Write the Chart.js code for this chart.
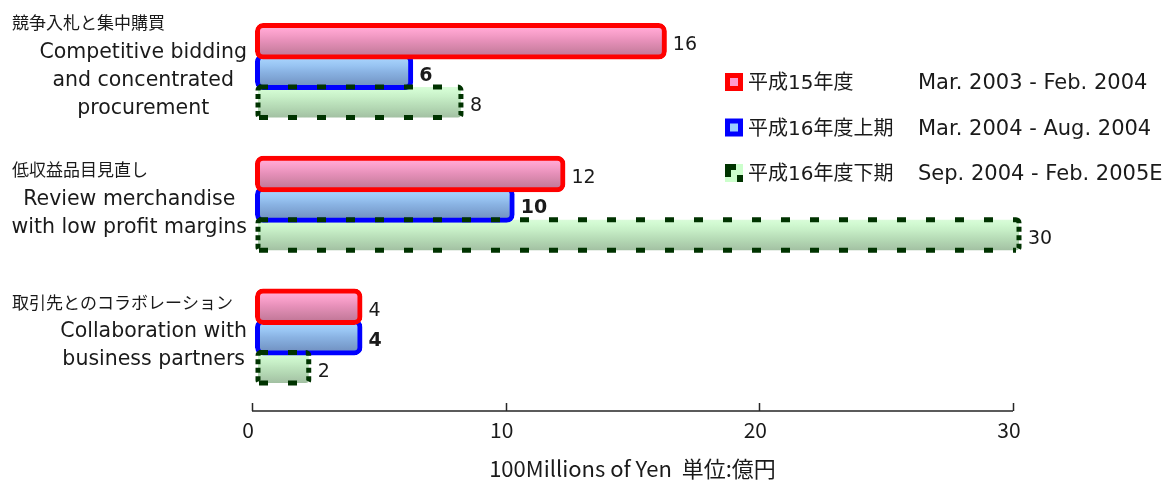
<!DOCTYPE html>
<html>
<head>
<meta charset="utf-8">
<script src="https://cdn.jsdelivr.net/npm/chart.js@4"></script>
<style>
  html, body { margin: 0; padding: 0; background: #ffffff; }
  #wrap { width: 1167px; height: 480px; position: relative; }
</style>
</head>
<body>
<div id="wrap"><canvas id="chart"></canvas></div>
<script>
// Cost-reduction effects by initiative, three fiscal periods
const categoriesJa = ['競争入札と集中購買', '低収益品目見直し', '取引先とのコラボレーション'];
const categoriesEn = [
  ['Competitive bidding', 'and concentrated', 'procurement'],
  ['Review merchandise', 'with low profit margins'],
  ['Collaboration with', 'business partners']
];
const seriesJa = ['平成15年度', '平成16年度上期', '平成16年度下期'];
const seriesPeriod = ['Mar. 2003 - Feb. 2004', 'Mar. 2004 - Aug. 2004', 'Sep. 2004 - Feb. 2005E'];
const fy2003 = [16, 12, 4];
const fy2004First = [6, 10, 4];
const fy2004Second = [8, 30, 2];
const xTicks = [0, 10, 20, 30];
const axisTitle = '100Millions of Yen  単位:億円';

const EN_FONT = '"DejaVu Sans", "Noto Sans CJK JP", sans-serif';
const JA_FONT = '"Noto Sans CJK JP", sans-serif';
const TEXT = '#1a1a1a';
const BAR = 30.5;      // bar thickness
const DEPTH = 6;       // horizontal offset of the bar bodies

const shades = [
  [[0, '#fbb6d8'], [0.12, '#ffa6d2'], [0.3, '#f49cc6'], [0.5, '#e58fb8'], [0.7, '#d586aa'], [0.88, '#c87c9e'], [1, '#c07596']],
  [[0, '#b0d8ff'], [0.12, '#a4cffa'], [0.3, '#98c4f2'], [0.5, '#8ab3e3'], [0.7, '#7fa5d5'], [0.88, '#7698c8'], [1, '#7090c0']],
  [[0, '#dafcda'], [0.12, '#d2fad2'], [0.3, '#c9f1c9'], [0.5, '#bde3bd'], [0.7, '#b2d6b2'], [0.88, '#a9c9a9'], [1, '#a2c0a2']]
];

function shade(stops) {
  return (c) => {
    const chart = c.chart;
    const ys = chart.scales.y;
    if (!ys || c.type !== 'data') return stops[3][1];
    const mid = ys.getPixelForValue(c.dataIndex) + (c.datasetIndex - 1) * BAR;
    if (!Number.isFinite(mid)) return stops[3][1];
    const g = chart.ctx.createLinearGradient(0, mid - BAR / 2, 0, mid + BAR / 2);
    stops.forEach(([o, col]) => g.addColorStop(o, col));
    return g;
  };
}

// Shifts the bar bodies, adds the dashed outline of the last series and value labels
const barDecor = {
  id: 'barDecor',
  beforeDatasetsDraw(chart) {
    chart.ctx.save();
    chart.ctx.translate(DEPTH, 0);
  },
  afterDatasetsDraw(chart) {
    const ctx = chart.ctx;
    const meta = chart.getDatasetMeta(2);
    meta.data.forEach((el) => {
      const { x, y, base, height } = el.getProps(['x', 'y', 'base', 'height'], true);
      const top = y - height / 2, bot = y + height / 2;
      ctx.save();
      ctx.strokeStyle = '#003300';
      ctx.lineWidth = 5;
      ctx.lineCap = 'butt';
      // long edges
      ctx.setLineDash([9, 20]);
      ctx.beginPath();
      ctx.moveTo(base + 1, top); ctx.lineTo(x - 3, top);
      ctx.moveTo(base + 1, bot); ctx.lineTo(x - 3, bot);
      ctx.stroke();
      // rounded ends
      ctx.setLineDash([5, 3.5]);
      ctx.beginPath();
      ctx.moveTo(base + 3, top);
      ctx.arcTo(base, top, base, top + 3, 3);
      ctx.lineTo(base, bot - 3);
      ctx.arcTo(base, bot, base + 3, bot, 3);
      ctx.stroke();
      ctx.beginPath();
      ctx.moveTo(x - 3, top);
      ctx.arcTo(x, top, x, top + 3, 3);
      ctx.lineTo(x, bot - 3);
      ctx.arcTo(x, bot, x - 3, bot, 3);
      ctx.stroke();
      ctx.restore();
    });
    ctx.restore();

    // value labels
    ctx.save();
    ctx.fillStyle = TEXT;
    ctx.textBaseline = 'middle';
    ctx.textAlign = 'left';
    chart.data.datasets.forEach((ds, di) => {
      const m = chart.getDatasetMeta(di);
      ctx.font = (di === 1 ? 'bold ' : '') + '19px ' + EN_FONT;
      m.data.forEach((el, i) => {
        const { x, y } = el.getProps(['x', 'y'], true);
        ctx.fillText(String(ds.data[i]), x + 15, y + 4);
      });
    });
    ctx.restore();
  }
};

// Category labels, legend and the bottom axis line
const frame = {
  id: 'frame',
  afterDraw(chart) {
    const ctx = chart.ctx;
    const ys = chart.scales.y;
    const xs = chart.scales.x;
    const area = chart.chartArea;

    // category labels
    ctx.save();
    ctx.fillStyle = TEXT;
    ctx.textBaseline = 'middle';
    categoriesJa.forEach((ja, i) => {
      const c = ys.getPixelForValue(i);
      const lines = categoriesEn[i];
      const k = lines.length;
      ctx.font = '20.5px ' + EN_FONT;
      const widths = lines.map((t) => ctx.measureText(t).width);
      const blockW = Math.max(...widths);
      const cx = 247 - blockW / 2;
      ctx.textAlign = 'center';
      lines.forEach((t, j) => {
        ctx.fillText(t, cx, c + 9 + (j - (k - 1) / 2) * 28);
      });
      const firstY = c + 9 - ((k - 1) / 2) * 28;
      ctx.font = '17px ' + JA_FONT;
      ctx.textAlign = 'left';
      ctx.fillText(ja, 12, firstY - 30);
    });
    ctx.restore();

    // legend
    const colors = [['#ff0000', '#ff99cc'], ['#0000ff', '#99ccff']];
    ctx.save();
    ctx.textBaseline = 'middle';
    seriesJa.forEach((name, i) => {
      const cy = 82 + i * 45.5;
      const bx = 725, by = cy - 9;
      if (i < 2) {
        ctx.fillStyle = colors[i][0];
        ctx.fillRect(bx, by, 18, 18);
        ctx.fillStyle = colors[i][1];
        ctx.fillRect(bx + 5, by + 5, 8, 8);
      } else {
        ctx.fillStyle = '#ccffcc';
        ctx.fillRect(bx, by, 18, 18);
        ctx.fillStyle = '#003300';
        ctx.fillRect(bx, by, 11, 6);
        ctx.fillRect(bx, by, 6, 13);
        ctx.fillRect(bx + 12, by + 11, 6, 7);
      }
      ctx.fillStyle = TEXT;
      ctx.textAlign = 'left';
      ctx.font = '20px ' + EN_FONT;
      ctx.fillText(name, 748, cy + 2);
      ctx.font = '21px ' + EN_FONT;
      ctx.fillText(seriesPeriod[i], 918, cy + 2);
    });
    ctx.restore();

    // axis line with upward tick marks
    const ay = area.bottom + 7.5;
    ctx.save();
    ctx.strokeStyle = '#262626';
    ctx.lineWidth = 1.5;
    ctx.beginPath();
    ctx.moveTo(xs.left, ay);
    ctx.lineTo(xs.right, ay);
    xs.ticks.forEach((t) => {
      const px = Math.round(xs.getPixelForValue(t.value)) + 0.5;
      ctx.moveTo(px, ay);
      ctx.lineTo(px, ay - 8);
    });
    ctx.stroke();
    ctx.restore();
  }
};

const datasets = [fy2003, fy2004First, fy2004Second].map((vals, i) => ({
  label: seriesJa[i],
  data: vals,
  backgroundColor: shade(shades[i]),
  borderColor: ['#ff0000', '#0000ff', '#003300'][i],
  borderWidth: i < 2 ? 5 : 0,
  inflateAmount: i < 2 ? 3 : 0,
  borderRadius: i < 2 ? 8 : 3,
  borderSkipped: false,
  barThickness: BAR,
  clip: false
}));

new Chart(document.getElementById('chart'), {
  type: 'bar',
  data: { labels: categoriesJa, datasets },
  options: {
    indexAxis: 'y',
    responsive: true,
    maintainAspectRatio: false,
    animation: false,
    events: [],
    layout: { padding: { left: 252, right: 154, top: 5.5, bottom: 0 } },
    plugins: { legend: { display: false }, tooltip: { enabled: false } },
    scales: {
      y: { display: false },
      x: {
        min: 0,
        max: 30,
        afterBuildTicks: (scale) => { scale.ticks = xTicks.map((v) => ({ value: v })); },
        afterFit: (scale) => { scale.height = 76.5; },
        grid: { display: false, drawTicks: false },
        border: { display: false },
        ticks: {
          padding: 16,
          labelOffset: -4,
          color: TEXT,
          font: { family: '"Noto Sans CJK JP", "Noto Sans", sans-serif', size: 21, lineHeight: 1 }
        },
        title: {
          display: true,
          text: axisTitle,
          color: TEXT,
          padding: { top: 1.5, bottom: 0 },
          font: { family: '"Noto Sans CJK JP", sans-serif', size: 22, lineHeight: 1 }
        }
      }
    }
  },
  plugins: [barDecor, frame]
});
</script>
</body>
</html>
